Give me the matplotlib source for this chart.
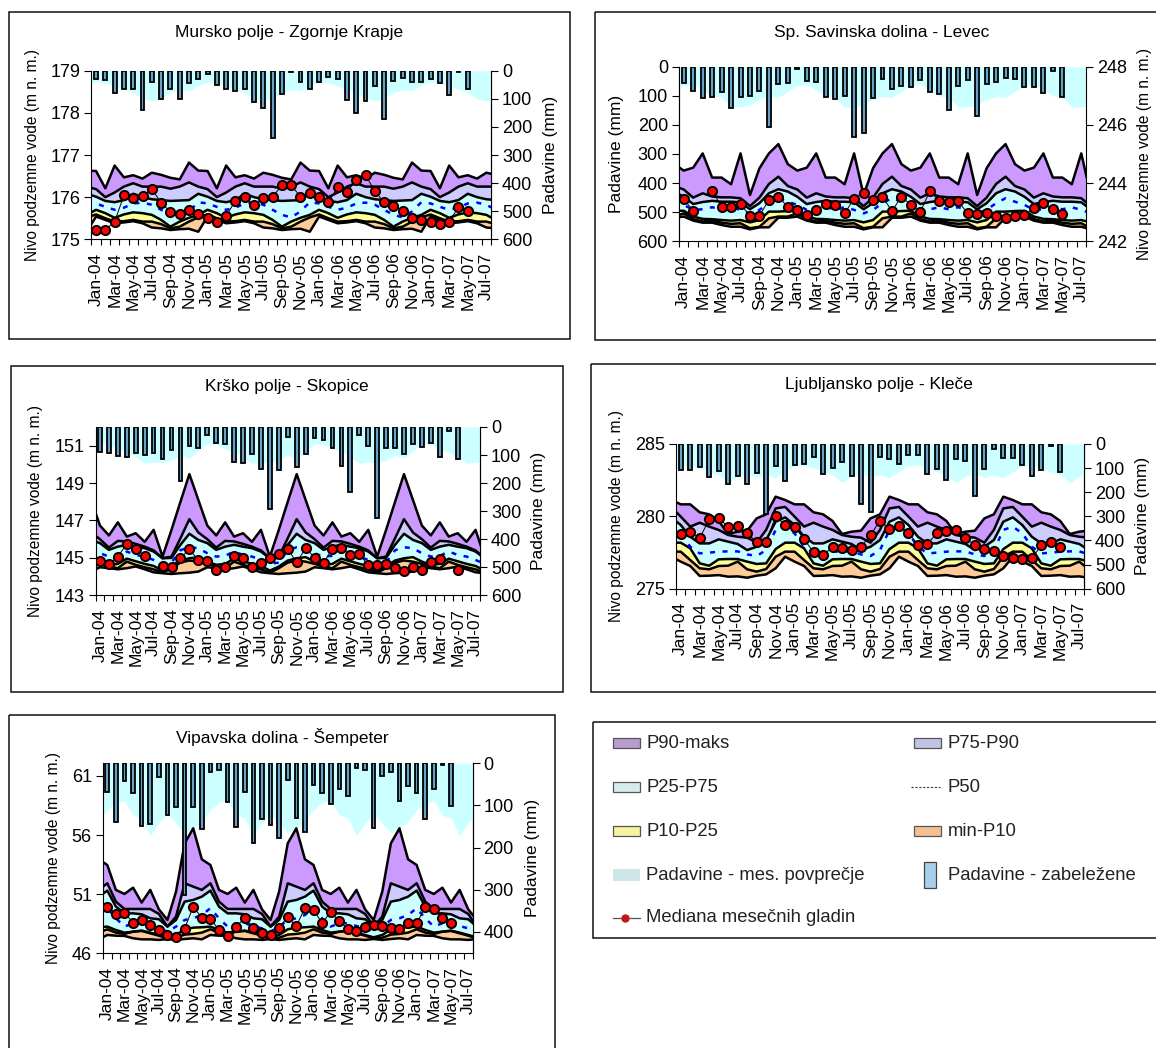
import numpy as np
import matplotlib
matplotlib.use('Agg')
import matplotlib.pyplot as plt
from matplotlib.patches import Rectangle

plt.rcParams['font.family'] = ['Liberation Sans', 'DejaVu Sans']

W, H = 1156, 1048
nan = float('nan')

x_labels = ['Jan-04', 'Mar-04', 'May-04', 'Jul-04', 'Sep-04', 'Nov-04', 'Jan-05', 'Mar-05', 'May-05', 'Jul-05', 'Sep-05',
            'Nov-05', 'Jan-06', 'Mar-06', 'May-06', 'Jul-06', 'Sep-06', 'Nov-06', 'Jan-07', 'Mar-07', 'May-07', 'Jul-07']

# mesecne statistike (jan..dec), v grafu se ponavljajo vsako leto
mursko_maks = [176.62, 176.21, 176.75, 176.47, 176.52, 176.44, 176.58, 176.53, 176.46, 176.42, 176.82, 176.63]
mursko_p90 = [176.19, 176.0, 176.11, 176.25, 176.33, 176.25, 176.25, 176.25, 176.2, 176.25, 176.35, 176.25]
mursko_p75 = [176.01, 175.91, 175.88, 175.93, 176.08, 176.0, 175.95, 175.93, 175.91, 175.92, 175.93, 176.08]
mursko_p50 = [175.85, 175.77, 175.7, 175.75, 175.85, 175.87, 175.82, 175.7, 175.58, 175.52, 175.66, 175.88]
mursko_p25 = [175.7, 175.62, 175.51, 175.59, 175.64, 175.62, 175.58, 175.46, 175.3, 175.42, 175.51, 175.58]
mursko_p10 = [175.59, 175.5, 175.42, 175.43, 175.46, 175.42, 175.42, 175.36, 175.26, 175.3, 175.42, 175.52]
mursko_min = [175.54, 175.46, 175.38, 175.4, 175.43, 175.38, 175.28, 175.26, 175.22, 175.24, 175.25, 175.18]
mursko_pad_povp = [40, 43, 55, 66, 78, 100, 108, 98, 78, 68, 72, 52]
mursko_pad = [31, 33, 78, 66, 64, 140, 39, 101, 64, 101, 42, 30, 12, 51, 65, 71, 64, 110, 134, 241, 83, 6, 39, 65, 39,
              21, 28, 104, 149, 108, 53, 172, 38, 27, 40, 39, 28, 45, 87, 6, 64]
mursko_gladina = [175.22, 175.22, 175.42, 176.04, 175.97, 176.03, 176.19, 175.87, 175.65, 175.59, 175.7, 175.59, 175.5,
                  175.42, 175.55, 175.92, 176.0, 175.81, 175.97, 176.01, 176.28, 176.28, 176.01, 176.09, 176.01, 175.89,
                  176.23, 176.12, 176.41, 176.52, 176.14, 175.88, 175.79, 175.68, 175.51, 175.46, 175.42, 175.36, 175.42,
                  175.76, 175.66]

savinja_maks = [244.43, 244.53, 245.02, 244.19, 244.19, 243.96, 245.02, 243.59, 244.51, 245.02, 245.34, 244.65]
savinja_p90 = [243.78, 243.5, 243.65, 243.54, 243.51, 243.51, 243.48, 243.21, 243.5, 243.97, 244.22, 243.9]
savinja_p75 = [243.53, 243.28, 243.35, 243.39, 243.36, 243.36, 243.34, 243.1, 243.31, 243.65, 243.79, 243.71]
savinja_p50 = [243.25, 243.08, 243.1, 243.17, 243.1, 243.17, 243.08, 242.96, 243.08, 243.31, 243.48, 243.36]
savinja_p25 = [243.05, 242.85, 242.77, 242.76, 242.73, 242.71, 242.73, 242.65, 242.73, 243.02, 243.02, 243.04]
savinja_p10 = [242.96, 242.76, 242.68, 242.71, 242.64, 242.6, 242.62, 242.45, 242.5, 242.79, 242.85, 242.85]
savinja_min = [242.85, 242.71, 242.64, 242.64, 242.56, 242.5, 242.5, 242.41, 242.48, 242.48, 242.81, 242.81]
savinja_pad_povp = [65, 61, 80, 100, 105, 140, 138, 132, 112, 103, 105, 85]
savinja_pad = [55, 84, 109, 103, 87, 143, 105, 101, 85, 207, 58, 57, 9, 50, 54, 103, 110, 100, 242, 227, 108, 41, 77,
               68, 70, 45, 88, 93, 150, 66, 45, 168, 61, 54, 40, 41, 69, 69, 92, 15, 104]
savinja_gladina = [243.45, 243.05, nan, 243.73, 243.19, 243.18, 243.27, 242.88, 242.88, 243.42, 243.53, 243.18, 243.08,
                   242.89, 243.07, 243.27, 243.24, 242.96, 243.47, 243.67, 243.41, 243.53, 243.04, 243.53, 243.25,
                   243.01, 243.73, 243.37, 243.34, 243.37, 242.96, 242.94, 242.97, 242.88, 242.8, 242.87, 242.89,
                   243.16, 243.32, 243.11, 242.93]

krsko_maks = [146.73, 146.2, 146.9, 146.14, 146.32, 145.86, 146.5, 145.07, 146.5, 148.0, 149.48, 148.1]
krsko_p90 = [146.0, 145.55, 145.91, 145.88, 145.75, 145.6, 145.4, 144.98, 145.07, 146.05, 147.07, 146.36]
krsko_p75 = [145.79, 145.43, 145.6, 145.7, 145.6, 145.52, 145.34, 144.98, 145.0, 145.7, 146.29, 145.96]
krsko_p50 = [145.25, 145.07, 145.11, 145.34, 145.16, 145.07, 144.89, 144.68, 144.75, 145.41, 145.57, 145.52]
krsko_p25 = [144.8, 144.63, 144.68, 144.96, 144.82, 144.68, 144.57, 144.32, 144.54, 144.86, 144.98, 145.04]
krsko_p10 = [144.68, 144.54, 144.45, 144.8, 144.63, 144.5, 144.39, 144.21, 144.45, 144.75, 144.86, 144.8]
krsko_min = [144.5, 144.45, 144.39, 144.45, 144.54, 144.39, 144.23, 144.18, 144.14, 144.18, 144.21, 144.27]
krsko_pad_povp = [60, 62, 78, 90, 107, 130, 125, 128, 118, 100, 112, 85]
krsko_pad = [88, 91, 103, 106, 94, 100, 94, 115, 82, 191, 67, 76, 29, 56, 61, 125, 129, 97, 149, 291, 154, 37, 141, 95,
             40, 48, 75, 140, 233, 29, 67, 323, 76, 75, 96, 59, 71, 58, 108, 14, 115]
krsko_gladina = [144.84, 144.66, 145.07, 145.75, 145.48, 145.11, nan, 144.57, 144.54, 145.0, 145.46, 144.88, 144.82,
                 144.36, 144.5, 145.09, 145.02, 144.54, 144.75, 145.02, 145.2, 145.46, 144.77, 145.52, 145.02, 144.75,
                 145.48, 145.52, 145.18, 145.2, 144.61, 144.61, 144.66, 144.46, 144.32, 144.52, 144.36, 144.79, 144.93,
                 nan, 144.36]

ljubljana_maks = [280.83, 280.83, 280.28, 280.14, 279.68, 278.78, 278.94, 279.01, 279.86, 280.14, 281.36, 281.13]
ljubljana_p90 = [279.98, 279.29, 279.56, 279.29, 279.06, 278.71, 278.59, 278.53, 278.18, 279.06, 280.55, 280.65]
ljubljana_p75 = [279.4, 278.59, 278.13, 278.13, 278.41, 278.25, 278.09, 277.67, 277.9, 278.36, 279.63, 279.93]
ljubljana_p50 = [278.82, 277.9, 277.44, 277.49, 277.56, 277.58, 277.58, 277.37, 277.26, 277.67, 279.06, 279.29]
ljubljana_p25 = [278.18, 277.79, 276.75, 276.59, 277.03, 277.05, 277.05, 276.87, 276.71, 276.75, 277.74, 278.18]
ljubljana_p10 = [277.56, 276.98, 276.41, 276.34, 276.57, 276.59, 276.87, 276.34, 276.18, 276.36, 277.21, 277.56]
ljubljana_min = [276.87, 276.57, 275.88, 275.9, 275.94, 275.83, 275.85, 275.76, 275.9, 275.99, 276.41, 277.21]
ljubljana_pad_povp = [92, 87, 101, 115, 128, 160, 135, 122, 138, 128, 140, 115]
ljubljana_pad = [108, 109, 94, 138, 113, 167, 131, 167, 122, 290, 93, 152, 86, 84, 53, 123, 101, 75, 134, 249, 282, 53,
                 64, 84, 44, 44, 123, 105, 149, 61, 72, 216, 104, 21, 58, 57, 87, 134, 109, 8, 116]
ljubljana_gladina = [278.76, 278.92, 278.5, 279.79, 279.91, 279.24, 279.35, 278.82, 278.23, 278.23, 280.0, 279.42,
                     279.29, 278.41, 277.53, 277.35, 277.86, 277.81, 277.67, 277.88, 278.71, 279.7, 279.1, 279.31,
                     278.85, 278.04, 278.09, 278.85, 278.99, 279.06, 278.48, 278.02, 277.72, 277.63, 277.26, 277.12,
                     277.03, 277.1, 278.0, 278.25, 277.86]

vipava_maks = [53.47, 51.36, 51.02, 51.55, 50.29, 51.36, 49.72, 48.82, 51.22, 55.3, 56.57, 53.95]
vipava_p90 = [51.92, 50.37, 49.75, 49.75, 49.75, 49.75, 49.33, 48.26, 49.1, 51.92, 51.64, 51.36]
vipava_p75 = [51.3, 49.95, 49.38, 49.38, 49.3, 48.96, 48.88, 48.26, 48.82, 50.37, 50.51, 50.79]
vipava_p50 = [49.81, 48.96, 48.26, 48.54, 48.54, 48.31, 48.11, 47.83, 48.26, 48.82, 48.96, 49.24]
vipava_p25 = [48.26, 47.97, 47.75, 47.83, 47.92, 47.75, 47.55, 47.35, 47.55, 48.03, 48.17, 48.2]
vipava_p10 = [48.03, 47.75, 47.64, 47.83, 47.89, 47.69, 47.49, 47.27, 47.32, 47.58, 47.64, 47.75]
vipava_min = [47.55, 47.49, 47.47, 47.27, 47.18, 47.18, 47.13, 47.21, 47.13, 47.21, 47.27, 47.18]
vipava_pad_povp = [111, 93, 89, 123, 130, 172, 141, 120, 142, 165, 154, 138]
vipava_pad = [69, 139, 41, 70, 149, 145, 32, 123, 104, 312, 104, 155, 20, 16, 92, 151, 67, 190, 133, 146, 178, 40, 131,
              162, 52, 70, 96, 61, 78, 12, 17, 153, 31, 21, 89, 53, 70, 132, 62, 4, 102]
vipava_gladina = [49.95, 49.33, 49.44, 48.59, 48.79, 48.42, 47.97, 47.55, 47.35, 48.09, 49.95, 48.99, 48.93, 47.97,
                  47.47, 48.26, 48.99, 48.17, 47.69, 47.58, 48.17, 49.04, 48.31, 49.83, 49.66, 48.57, 49.47, 48.71,
                  48.06, 47.86, 48.23, 48.4, 48.28, 48.14, 48.09, 48.54, 48.54, 49.89, 49.72, 49.02, 48.57]

PURPLE = '#CC99FF'
LAVENDER = '#CCCCFF'
CYAN = '#CCFFFF'
YELLOW = '#FFFF99'
ORANGE = '#FFCC99'
BAR = '#6A9FC8'

fig = plt.figure(figsize=(W / 100, H / 100), dpi=100)
page = fig.add_axes([0, 0, 1, 1])
page.set_xlim(0, W)
page.set_ylim(H, 0)
page.axis('off')

# stevilo mesecev -1..43, rob osi odreze december 2003 in avgust 2007
months = np.arange(-1, 44)


def yearly(values):
    return np.array(values)[months % 12]


def box(left, top, right, bottom):
    page.add_patch(Rectangle((left, top), right - left, bottom - top, fill=False, edgecolor='#111111', linewidth=1.1))


def panel(title, title_xy, frame, area, level_lim, level_ticks, rain_max, stats, rain_mean, rain, level,
          label_x, rain_left=False):
    box(*frame)
    page.text(title_xy[0], title_xy[1], title, fontsize=12.5, ha='center', va='center')
    left, top, right, bottom = area
    ax = fig.add_axes([left / W, 1 - bottom / H, (right - left) / W, (bottom - top) / H])
    ax.patch.set_alpha(0)
    low, high = level_lim

    def to_level(mm):
        return high - np.asarray(mm, dtype=float) * (high - low) / rain_max

    def to_rain(v):
        return (high - np.asarray(v, dtype=float)) * rain_max / (high - low)

    maks, p90, p75, p50, p25, p10, mini = [yearly(s) for s in stats]
    ax.fill_between(months, to_level(yearly(rain_mean)), high, color=CYAN, linewidth=0, zorder=1)
    ax.fill_between(months, p90, maks, color=PURPLE, linewidth=0, zorder=2)
    ax.fill_between(months, p75, p90, color=LAVENDER, linewidth=0, zorder=2)
    ax.fill_between(months, p25, p75, color=CYAN, linewidth=0, zorder=2)
    ax.fill_between(months, p10, p25, color=YELLOW, linewidth=0, zorder=2)
    ax.fill_between(months, mini, p10, color=ORANGE, linewidth=0, zorder=2)
    for s in (maks, p90, p75, p25, p10, mini):
        ax.plot(months, s, color='black', linewidth=1.8, zorder=3)
    ax.plot(months, p50, color='#0000FF', linewidth=1.8, dashes=(2, 3), zorder=3)

    idx = np.arange(len(rain))
    ax.bar(idx, to_level(0) - to_level(rain), bottom=to_level(rain), width=0.42, color=BAR, edgecolor='black',
           linewidth=1.3, zorder=4)
    ax.plot(np.arange(len(level)), level, color='black', linewidth=0.7, marker='o', markersize=6.6,
            markerfacecolor='#FF0000', markeredgecolor='black', markeredgewidth=1.4, zorder=5)

    ax.set_xlim(-0.5, 42.5)
    ax.set_ylim(low, high)
    ax.spines['top'].set_visible(False)
    ax.set_xticks(np.arange(-0.5, 43, 1))
    ax.set_xticklabels([])
    ax.set_xticks(np.arange(0, 43, 2), minor=True)
    ax.set_xticklabels(x_labels, minor=True, rotation=90, fontsize=12.5)
    ax.tick_params(axis='x', which='major', length=4, width=0.8)
    ax.tick_params(axis='x', which='minor', length=0, pad=9.5)
    ax.set_yticks(level_ticks)
    ax.tick_params(axis='y', labelsize=13, length=5, width=0.8, pad=3)

    side = 'left' if rain_left else 'right'
    if rain_left:
        ax.yaxis.tick_right()
    sec = ax.secondary_yaxis(side, functions=(to_rain, to_level))
    sec.set_yticks(np.arange(0, rain_max + 1, 100))
    sec.tick_params(axis='y', labelsize=13, length=5, width=0.8, pad=3)

    mid = (top + bottom) / 2
    page.text(label_x[0], mid, 'Nivo podzemne vode (m n. m.)', fontsize=11.2, rotation=90, ha='center', va='center')
    page.text(label_x[1], mid, 'Padavine (mm)', fontsize=12.5, rotation=90, ha='center', va='center')


panel('Mursko polje - Zgornje Krapje', (289.5, 33), (9, 12, 570, 339), (91.4, 70.7, 491, 239.3),
      (175, 179), [175, 176, 177, 178, 179], 600,
      (mursko_maks, mursko_p90, mursko_p75, mursko_p50, mursko_p25, mursko_p10, mursko_min),
      mursko_pad_povp, mursko_pad, mursko_gladina, (32.5, 551))

panel('Sp. Savinska dolina - Levec', (882, 33), (594.5, 12, 1165, 340), (679, 66.7, 1086, 241.3),
      (242, 248), [242, 244, 246, 248], 600,
      (savinja_maks, savinja_p90, savinja_p75, savinja_p50, savinja_p25, savinja_p10, savinja_min),
      savinja_pad_povp, savinja_pad, savinja_gladina, (1144, 617), rain_left=True)

panel('Krško polje - Skopice', (286.7, 387), (10.5, 365.5, 563, 691.5), (95.5, 427, 480, 595.3),
      (143, 152), [143, 145, 147, 149, 151], 600,
      (krsko_maks, krsko_p90, krsko_p75, krsko_p50, krsko_p25, krsko_p10, krsko_min),
      krsko_pad_povp, krsko_pad, krsko_gladina, (36, 539))

panel('Ljubljansko polje - Kleče', (879, 385), (591, 364, 1165, 691.5), (676, 444, 1084, 588.7),
      (275, 285), [275, 280, 285], 600,
      (ljubljana_maks, ljubljana_p90, ljubljana_p75, ljubljana_p50, ljubljana_p25, ljubljana_p10, ljubljana_min),
      ljubljana_pad_povp, ljubljana_pad, ljubljana_gladina, (616, 1143))

panel('Vipavska dolina - Šempeter', (282.5, 737), (8.5, 715, 554.5, 1060), (103, 763.3, 472.5, 953.3),
      (46, 62.07), [46, 51, 56, 61], 451,
      (vipava_maks, vipava_p90, vipava_p75, vipava_p50, vipava_p25, vipava_p10, vipava_min),
      vipava_pad_povp, vipava_pad, vipava_gladina, (53.5, 532))

# legenda
box(593, 722, 1165, 938)
rows = [743, 787, 831, 875, 918]
col1, col2 = 612.5, 914


def swatch(x, y, color, edge='#555555'):
    page.add_patch(Rectangle((x, y - 5), 27, 10, facecolor=color, edgecolor=edge, linewidth=0.9))


def legend_text(x, y, s):
    page.text(x, y, s, fontsize=13.3, color='#222222', ha='left', va='center')


swatch(col1, rows[0], '#B79CCF')
legend_text(646, rows[0], 'P90-maks')
swatch(col2, rows[0], '#BFC4E6')
legend_text(947.5, rows[0], 'P75-P90')
swatch(col1, rows[1], '#D6ECEC')
legend_text(646, rows[1], 'P25-P75')
page.plot([911, 940], [rows[1], rows[1]], color='#333333', linewidth=0.8, dashes=(2, 1.5))
legend_text(947.5, rows[1], 'P50')
swatch(col1, rows[2], '#F5F2A0')
legend_text(646, rows[2], 'P10-P25')
swatch(col2, rows[2], '#F5C08F')
legend_text(947.5, rows[2], 'min-P10')
page.add_patch(Rectangle((col1, rows[3] - 6), 27, 12, facecolor='#CFE6E8', edgecolor='none'))
legend_text(646, rows[3], 'Padavine - mes. povprečje')
page.add_patch(Rectangle((924, rows[3] - 13), 11.5, 26, facecolor='#A8D0EA', edgecolor='#444444', linewidth=0.9))
legend_text(947.5, rows[3], 'Padavine - zabeležene')
page.plot([612.5, 639.5], [rows[4], rows[4]], color='#555555', linewidth=0.9)
page.plot([625], [rows[4]], marker='o', markersize=5, color='#C01818')
legend_text(646, rows[4], 'Mediana mesečnih gladin')
page.set_xlim(0, W)
page.set_ylim(H, 0)

fig.savefig('out.png', dpi=100)
